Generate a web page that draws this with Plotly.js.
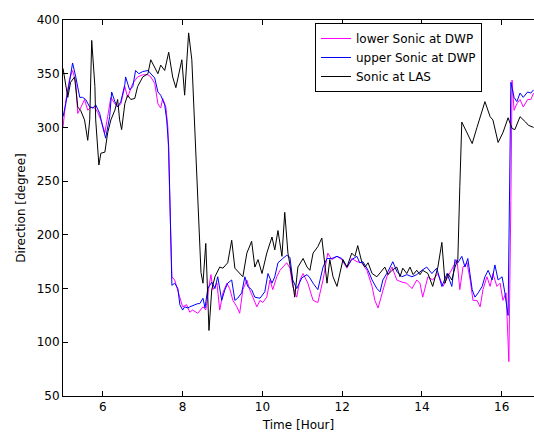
<!DOCTYPE html>
<html>
<head>
<meta charset="utf-8">
<script src="https://cdn.plot.ly/plotly-3.0.1.min.js"></script>
<style>html,body{margin:0;padding:0;background:#fff;}#chart{width:534px;height:432px;}</style>
</head>
<body>
<div id="chart"></div>
<script>
// Sonic at LAS
const lasHour = [5.00,5.07,5.12,5.19,5.29,5.37,5.44,5.54,5.62,5.67,5.72,5.80,5.82,5.90,5.95,6.05,6.12,6.20,6.30,6.37,6.42,6.47,6.55,6.62,6.70,6.80,6.87,7.00,7.13,7.20,7.30,7.38,7.45,7.55,7.65,7.75,7.83,7.98,8.05,8.15,8.23,8.33,8.41,8.46,8.51,8.58,8.63,8.66,8.73,8.81,8.93,9.01,9.13,9.23,9.31,9.43,9.51,9.61,9.73,9.81,9.89,9.99,10.11,10.24,10.31,10.39,10.49,10.56,10.64,10.74,10.81,10.89,11.02,11.12,11.19,11.27,11.39,11.49,11.54,11.62,11.69,11.77,11.87,11.94,12.02,12.12,12.24,12.32,12.39,12.49,12.57,12.65,12.75,12.87,13.00,13.07,13.15,13.25,13.37,13.45,13.52,13.62,13.70,13.78,13.87,13.95,14.02,14.15,14.27,14.40,14.50,14.58,14.65,14.75,14.83,14.90,14.95,15.00,15.13,15.26,15.38,15.46,15.58,15.71,15.78,15.91,16.03,16.16,16.26,16.33,16.46,16.60,16.67,16.80];
const lasDir = [355,338,328,342,347,319,316,307,288,307,381,338,307,265,276,277,295,307,316,326,307,298,322,330,326,327,338,347,350,363,356,350,358,353,370,347,337,363,330,388,363,270,200,165,155,192,142,111,149,161,170,169,174,195,169,164,161,183,194,170,177,164,183,198,186,204,180,221,183,161,142,170,178,170,167,183,189,197,180,155,177,161,152,164,177,170,183,180,190,175,170,174,164,161,167,170,163,167,170,161,169,164,170,163,167,163,167,164,152,170,193,155,164,158,170,177,245,305,295,285,300,310,324,310,307,286,295,309,299,298,310,305,302,300];

// upper Sonic at DWP
const upperHour = [5.00,5.07,5.17,5.24,5.32,5.42,5.49,5.57,5.67,5.75,5.82,5.92,6.00,6.07,6.17,6.22,6.30,6.37,6.45,6.55,6.57,6.67,6.75,6.82,6.90,7.00,7.13,7.20,7.30,7.38,7.45,7.55,7.60,7.65,7.68,7.73,7.80,7.88,7.93,8.00,8.05,8.13,8.18,8.25,8.30,8.38,8.43,8.51,8.56,8.63,8.73,8.81,8.88,8.98,9.06,9.13,9.23,9.31,9.38,9.48,9.56,9.63,9.73,9.81,9.94,10.06,10.14,10.24,10.31,10.39,10.51,10.61,10.69,10.76,10.86,10.99,11.12,11.19,11.27,11.39,11.52,11.62,11.74,11.87,11.99,12.12,12.24,12.37,12.44,12.52,12.65,12.75,12.87,12.95,13.02,13.15,13.27,13.37,13.50,13.62,13.75,13.87,14.00,14.12,14.25,14.37,14.50,14.63,14.75,14.83,14.90,15.00,15.08,15.15,15.26,15.33,15.41,15.51,15.58,15.66,15.76,15.83,15.91,16.01,16.08,16.16,16.23,16.31,16.38,16.46,16.54,16.65,16.73,16.80];
const upperDir = [310,322,344,360,347,328,328,326,319,318,321,313,300,290,310,333,324,319,324,340,347,335,338,353,350,352,353,350,346,333,330,321,307,282,223,153,155,150,135,130,133,132,133,134,135,136,136,141,132,150,156,150,161,139,149,155,158,139,141,146,161,152,149,142,141,147,164,155,161,174,178,181,179,158,150,160,163,160,155,149,170,178,178,180,178,170,177,180,174,175,167,158,150,147,158,166,175,166,161,163,161,163,167,170,164,169,152,164,152,177,174,180,170,178,149,142,146,152,161,167,158,172,158,161,146,125,342,328,324,332,328,333,332,335];

// lower Sonic at DWP
const lowerHour = [5.00,5.07,5.17,5.24,5.32,5.37,5.44,5.54,5.62,5.70,5.80,5.87,5.95,6.05,6.12,6.20,6.30,6.37,6.45,6.55,6.62,6.75,6.87,7.00,7.13,7.20,7.30,7.38,7.45,7.50,7.58,7.63,7.68,7.73,7.80,7.93,8.00,8.10,8.18,8.25,8.38,8.51,8.58,8.66,8.71,8.76,8.86,8.93,9.01,9.11,9.18,9.26,9.36,9.43,9.51,9.61,9.68,9.76,9.86,9.94,10.01,10.11,10.19,10.26,10.36,10.44,10.51,10.61,10.69,10.76,10.86,10.94,11.02,11.14,11.27,11.39,11.52,11.64,11.74,11.87,11.99,12.12,12.24,12.37,12.49,12.62,12.75,12.82,12.90,13.00,13.12,13.25,13.37,13.50,13.62,13.75,13.87,13.95,14.02,14.15,14.27,14.40,14.53,14.65,14.78,14.88,14.95,15.03,15.13,15.21,15.28,15.38,15.46,15.53,15.63,15.71,15.78,15.88,15.96,16.03,16.11,16.16,16.18,16.23,16.26,16.31,16.38,16.46,16.54,16.65,16.73,16.80];
const lowerDir = [300,325,346,353,342,313,318,326,316,319,318,314,307,295,310,328,322,319,322,338,328,341,347,349,349,347,341,322,318,327,319,300,230,161,158,142,133,135,128,130,127,133,130,152,163,149,155,130,146,155,150,139,133,127,149,158,149,142,133,139,137,142,158,149,161,167,170,174,169,152,142,158,164,155,139,137,158,183,177,180,177,169,178,175,174,167,152,139,132,146,161,170,158,156,155,150,158,155,142,161,158,164,152,161,170,177,149,170,174,158,139,139,133,149,161,152,164,152,155,139,146,105,82,232,344,316,322,326,319,326,326,332];

const fontFam = '"DejaVu Sans", "Liberation Sans", Arial, sans-serif';

const traces = [
  {x: lowerHour, y: lowerDir, name: 'lower Sonic at DWP', type: 'scatter', mode: 'lines',
   line: {color: '#ff00ff', width: 1}},
  {x: upperHour, y: upperDir, name: 'upper Sonic at DWP', type: 'scatter', mode: 'lines',
   line: {color: '#0000ff', width: 1}},
  {x: lasHour, y: lasDir, name: 'Sonic at LAS', type: 'scatter', mode: 'lines',
   line: {color: '#000000', width: 1}}
];

const layout = {
  width: 534, height: 432,
  margin: {l: 63, r: 0, t: 20, b: 36, pad: 0},
  paper_bgcolor: '#ffffff', plot_bgcolor: '#ffffff',
  font: {family: fontFam, size: 12, color: '#000'},
  showlegend: true,
  legend: {
    x: 0.535, y: 0.992, xanchor: 'left', yanchor: 'top',
    bgcolor: '#ffffff', bordercolor: '#000000', borderwidth: 1,
    font: {family: fontFam, size: 12, color: '#000'},
    itemwidth: 30, tracegroupgap: 0
  },
  xaxis: {
    range: [5, 16.81], tickvals: [6, 8, 10, 12, 14, 16],
    ticks: 'inside', ticklen: 5, tickcolor: '#000', tickwidth: 1,
    showline: true, linecolor: '#000', linewidth: 1, mirror: 'ticks',
    showgrid: false, zeroline: false,
    title: {text: 'Time [Hour]', font: {size: 12}, standoff: 7},
    tickfont: {size: 12}
  },
  yaxis: {
    range: [50, 400], tickvals: [50, 100, 150, 200, 250, 300, 350, 400],
    ticks: 'inside', ticklen: 5, tickcolor: '#000', tickwidth: 1,
    showline: true, linecolor: '#000', linewidth: 1, mirror: false,
    showgrid: false, zeroline: false,
    title: {text: 'Direction [degree]', font: {size: 12}, standoff: 8},
    tickfont: {size: 12}
  }
};

Plotly.newPlot('chart', traces, layout, {displayModeBar: false, staticPlot: true});
</script>
</body>
</html>
